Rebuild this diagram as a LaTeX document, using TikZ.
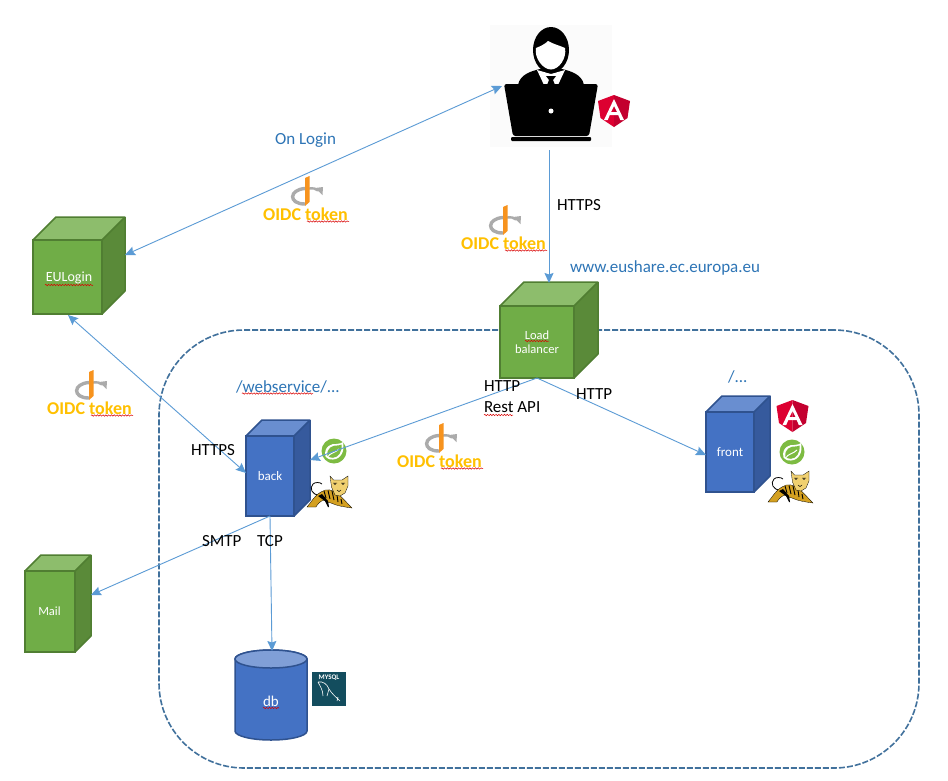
\documentclass[tikz,border=0pt]{standalone}
\usepackage{fontspec}
\setmainfont{Carlito}
\usetikzlibrary{arrows.meta,decorations.pathmorphing}
\definecolor{gMain}{HTML}{70AD47}\definecolor{gBord}{HTML}{507E32}\definecolor{gLite}{HTML}{8DBD6C}\definecolor{gDark}{HTML}{5A8A39}
\definecolor{bMain}{HTML}{4472C4}\definecolor{bBord}{HTML}{2F528F}\definecolor{bLite}{HTML}{698ED0}\definecolor{bDark}{HTML}{365A9D}
\definecolor{linkC}{HTML}{5B9BD5}\definecolor{txtBlue}{HTML}{2E75B6}\definecolor{oidcY}{HTML}{FFC000}\definecolor{frameC}{HTML}{41719C}
\definecolor{ngA}{HTML}{DD0031}\definecolor{ngB}{HTML}{C3002F}\definecolor{springC}{HTML}{7DBB42}\definecolor{catC}{HTML}{D4A020}\definecolor{catH}{HTML}{F0D070}
\definecolor{sqlC}{HTML}{134D5E}\definecolor{oidG}{HTML}{ABABAB}\definecolor{oidO}{HTML}{F7931E}
\tikzset{
 link/.style={draw=linkC,line width=.9pt},
 head/.style={-{Stealth[length=10pt,width=9pt,inset=1.5pt]}},
 both/.style={{Stealth[length=10pt,width=9pt,inset=1.5pt]}-{Stealth[length=10pt,width=9pt,inset=1.5pt]}},
 lab/.style={inner sep=0pt,outer sep=0pt,anchor=base west,font=\fontsize{17}{20}\selectfont},
 blab/.style={lab,text=txtBlue},
 boxtxt/.style={inner sep=0pt,text=white,align=center,font=\fontsize{12.5}{14.5}\selectfont},
 wavy/.style={draw=red!85!black,line width=.5pt,decorate,decoration={snake,amplitude=.7pt,segment length=2.8pt}},
 face/.style={rectangle,inner sep=0pt,outer sep=0pt,line width=1.5pt}
}
% name, x1, y1, x2, y2, depth, colour prefix
\newcommand\cubeshape[7]{%
 \fill[#7Dark] (#4,#3)--(#4+#6,#3-#6)--(#4+#6,#5-#6)--(#4,#5)--cycle;
 \fill[#7Lite] (#2,#3)--(#2+#6,#3-#6)--(#4+#6,#3-#6)--(#4,#3)--cycle;
 \draw[#7Bord,line width=1.5pt,line join=round] (#2,#3)--(#2+#6,#3-#6)--(#4+#6,#3-#6)--(#4+#6,#5-#6)--(#4,#5) (#4,#3)--(#4+#6,#3-#6);
 \node[face,draw=#7Bord,fill=#7Main,minimum width={(#4-#2)*1pt},minimum height={(#5-#3)*1pt}] (#1) at ({(#2+#4)/2},{(#3+#5)/2}) {};
}
\newcommand\angular[2]{\begin{scope}[shift={(#1,#2)}]
 \fill[ngA] (0,0)--(-16,6)--(-13.5,23)--(0,32)--cycle;
 \fill[ngB] (0,0)--(16,6)--(13.5,23)--(0,32)--cycle;
 \fill[white,even odd rule] (0,4)--(-10,25)--(-6.3,25)--(-4.2,20)--(4.2,20)--(6.3,25)--(10,25)--cycle (0,11)--(3,17)--(-3,17)--cycle;
\end{scope}}
\newcommand\springicon[2]{\begin{scope}[shift={(#1,#2)}]
 \fill[springC] (0,0) circle (12.5);
 \fill[white] (-8.5,5.5) .. controls (-11,-5) and (-1,-8) .. (2,-7) .. controls (5,-7) and (8,-8) .. (9,-9) .. controls (11,0) and (7,8) .. (-1,8.5) .. controls (-5,9) and (-7,7) .. (-8.5,5.5)--cycle;
 \fill[springC] (-6.5,5) .. controls (-8,-3) and (-1,-6) .. (3,-5.5) .. controls (5,-5.5) and (6.5,-6) .. (7.5,-6.5) .. controls (8.5,1) and (4,6.5) .. (-1,6.8) .. controls (-3,7) and (-5,6) .. (-6.5,5)--cycle;
 \draw[white,line width=1pt] (-7,6.5) .. controls (-3,1) and (1,2) .. (5,-2);
\end{scope}}
\newcommand\tomcat[2]{\begin{scope}[shift={(#1,#2)}]
 \draw[black,line width=.8pt] (12,20) .. controls (5,20) and (2,13) .. (6,9) .. controls (8,7) and (13,7) .. (15,9);
 \fill[catC,draw=black,line width=.3pt] (0,32) .. controls (5,26) and (9,19) .. (14,17) .. controls (19,13) and (26,15) .. (30,18) .. controls (35,22) and (41,29) .. (45,33) .. controls (38,32) and (30,31) .. (24,28) .. controls (20,27) and (18,27) .. (17,25) .. controls (13,26) and (10,30) .. (9,32)--cycle;
 \fill[black] (11,21) -- (18,26) -- (21,32) -- (22,32) -- (21,26) -- (15,19) --cycle;
 \draw[black,line width=.9pt] (17,16)--(19,23) (21,15.5)--(23,24) (25,16)--(27,25) (30,20)--(31,27) (34,24)--(35,29);
 \fill[catH,draw=black,line width=.3pt] (23,1) -- (26.5,5) -- (35,5) -- (41,1) -- (41,11) -- (38,18) -- (33,21) -- (28,20) -- (24.5,12)--cycle;
 \fill[black] (28,9) circle (.8) (36,9) circle (.8);
 \draw[black,line width=.5pt] (30,15)--(32,16.5)--(34,15) (26,8)--(30,8) (34,8)--(38,8);
\end{scope}}
\newcommand\oidc[3]{%
 \begin{scope}[shift={(#1+42,#2-37)}]
  \draw[oidG,line width=3.4pt] (0,11.5) .. controls (-16,12.5) and (-17,27) .. (0,27);
  \draw[oidG,line width=2.4pt] (4,11.5) .. controls (8,11) and (11,11.5) .. (13,13.5);
  \fill[oidG] (10,11)--(18,10)--(17.5,18)--cycle;
  \fill[oidO] (0,1)--(4.5,-1)--(4.5,25)--(0,29)--cycle;
 \end{scope}
 \node[inner sep=0pt,anchor=base west,text=oidcY,font=\fontsize{18}{20}\bfseries\selectfont] (#3) at (#1,#2+6) {OIDC token};
 \draw[wavy] (#1+44,#2+7.5)--(#1+86,#2+7.5);
}
\begin{document}
\begin{tikzpicture}[x=1pt,y=-1pt]
\useasboundingbox (0,0) rectangle (948,780);
\fill[white] (0,0) rectangle (948,780);
% dashed frame
\node[draw=frameC,line width=1.6pt,dash pattern=on 6pt off 2pt,rounded corners=85pt,inner sep=0pt,minimum width=760pt,minimum height=438pt] (zone) at (539,549) {};
% user
\node[fill=black!1.5,inner sep=0pt,minimum size=122pt] (user) at (551,86) {};
\fill[black] (518,85) .. controls (520,74) and (532,71) .. (540,69) -- (562,69) .. controls (570,71) and (582,74) .. (584,85) -- cycle;
\fill[white] (537,70)--(551,74)--(565,70)--(558,85)--(544,85)--cycle;
\fill[black] (546,76)--(556,76)--(553,80)--(555,85)--(547,85)--(549,80)--cycle;
\fill[black] (551,50) ellipse (18 and 23);
\fill[white] (536,48) .. controls (541,46) and (545,44) .. (548,41) .. controls (553,44) and (561,46) .. (565,48) .. controls (567,58) and (559,69.5) .. (551,69.5) .. controls (543,69.5) and (534,58) .. (536,48) -- cycle;
\fill[black,rounded corners=2.5pt] (504,84)--(598,84)--(589,136)--(513,136)--cycle;
\fill[black,rounded corners=1pt] (511,137)--(591,137)--(591,141)--(511,141)--cycle;
\fill[white] (551,111) circle (2.5);
\angular{614}{95}
% cubes
\cubeshape{eulogin}{33}{240}{102}{314}{23}{g}
\cubeshape{lb}{500}{306}{574}{378}{24}{g}
\cubeshape{mail}{25}{571}{75}{652}{16}{g}
\cubeshape{back}{246}{436}{294}{516}{16}{b}
\cubeshape{front}{706}{412}{754}{492}{16}{b}
\node[boxtxt,font=\fontsize{14}{16}\selectfont] (euloginT) at (69,278) {EULogin};
\draw[wavy] (45,285)--(93,285);
\node[boxtxt] (lbT) at (537,342) {Load\\balancer};
\draw[wavy] (525,341)--(549,341);
\node[boxtxt] (mailT) at (49.5,611) {Mail};
\node[boxtxt,font=\fontsize{13}{15}\selectfont] (backT) at (270,476) {back};
\node[boxtxt,font=\fontsize{13}{15}\selectfont] (frontT) at (730,452) {front};
% db
\node[inner sep=0pt,minimum width=72pt,minimum height=80pt] (db) at (271,700) {};
\fill[bMain,draw=bBord,line width=1.5pt] (235,659)--(235,731) arc[start angle=180,end angle=0,x radius=36,y radius=9]--(307,659) arc[start angle=0,end angle=-180,x radius=36,y radius=9]--cycle;
\fill[bLite!85!white,draw=bBord,line width=1.5pt] (271,659) ellipse (36 and 9);
\node[boxtxt,font=\fontsize{15}{17}\selectfont] (dbT) at (271,701) {db};
\draw[wavy] (263,708)--(279,708);
% mysql
\node[fill=sqlC,minimum size=34pt,inner sep=0pt] (mysql) at (329,689) {};
\node[inner sep=0pt,text=white,font=\fontsize{7}{8}\bfseries\selectfont] (mysqlT) at (329,677.5) {MYSQL};
\draw[white,line width=.6pt] (318,682) .. controls (323,681) and (327,684) .. (329,689) .. controls (332,694) and (336,697) .. (340,701) (318,682) .. controls (320,686) and (323,690) .. (323,696) (329,689) -- (327,696) (338,697)--(337,701);
% icons
\springicon{334}{451}\tomcat{307}{475}
\angular{792.5}{400}\springicon{792}{452}\tomcat{768}{470}
% connectors
\coordinate (userL) at (502,86);\coordinate (euloginR) at (125,255);
\coordinate (userB) at (549,150);\coordinate (lbT2) at (549,283);
\coordinate (lbB) at (537,378);\coordinate (backR) at (310,460);
\coordinate (euloginB) at (68,315);\coordinate (backL) at (246,473);
\coordinate (backB) at (270,516);\coordinate (mailR) at (91,595);\coordinate (dbT2) at (272,651);
\coordinate (frontL) at (706,455);
\draw[link,both] (euloginR)--(userL);
\draw[link,both] (euloginB)--(backL);
\draw[link,head] (userB)--(lbT2);
\draw[link,head] (lbB)--(backR);
\draw[link,head] (lbB)--(frontL);
\draw[link,head] (backB)--(mailR);
\draw[link,head] (backB)--(dbT2);
% oidc
\oidc{263}{214}{o1}\oidc{461}{243}{o2}\oidc{47}{408}{o3}\oidc{397}{461}{o4}
% labels
\node[blab] (l1) at (275,144) {On Login};
\node[lab] (l2) at (557,210) {HTTPS};
\node[blab] (l3) at (570,272) {www.eushare.ec.europa.eu};
\node[blab] (l4) at (236,392) {/webservice/...};
\draw[wavy] (242,393.5)--(313,393.5);
\node[blab] (l5) at (728,382) {/...};
\node[lab] (l6) at (484,391) {HTTP};
\node[lab] (l7) at (484,412) {Rest API};
\draw[wavy] (484,415)--(513,415);
\node[lab] (l8) at (576,399) {HTTP};
\node[lab] (l9) at (191,455) {HTTPS};
\node[lab] (l10) at (202,546) {SMTP};
\node[lab] (l11) at (257,546) {TCP};
\end{tikzpicture}
\end{document}
